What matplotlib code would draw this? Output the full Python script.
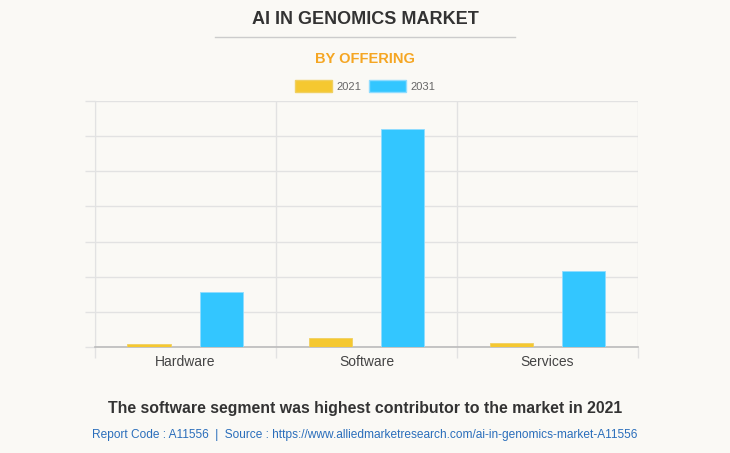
import numpy as np
import matplotlib.pyplot as plt
from matplotlib.patches import Patch

# Data (arbitrary units, one grid step = 1)
categories = ['Hardware', 'Software', 'Services']
values_2021 = [0.09, 0.26, 0.10]
values_2031 = [1.57, 6.2, 2.17]
series_labels = ['2021', '2031']

bg = '#faf9f5'
col_2021 = '#f5c830'
col_2031 = '#33c6ff'

plt.rcParams['font.family'] = ['Liberation Sans', 'DejaVu Sans']

fig = plt.figure(figsize=(7.30, 4.53), dpi=100, facecolor=bg)
ax = fig.add_axes([0.130, 0.234, 0.744, 0.543], facecolor=bg)

x = np.arange(len(categories))
w = 0.24
ax.bar(x - 0.2, values_2021, w, color=col_2021, edgecolor='#f0d060', linewidth=0.6, zorder=3)
ax.bar(x + 0.2, values_2031, w, color=col_2031, edgecolor='#8fdcff', linewidth=0.6, zorder=3)

ax.set_xlim(-0.5, len(categories) - 0.5)
ax.set_ylim(0, 7)

# horizontal grid with small stubs left of the axis
ax.set_yticks(np.arange(0, 8, 1))
ax.set_yticklabels([])
ax.tick_params(axis='y', length=7, color='#e2e2e2', width=1)
ax.grid(axis='y', color='#e2e2e2', linewidth=1, zorder=0)

# category labels and vertical separators
ax.set_xticks(x)
ax.set_xticklabels(categories, fontsize=10, color='#444444')
ax.tick_params(axis='x', which='major', length=0, pad=6)
ax.set_xticks(np.arange(-0.5, len(categories), 1), minor=True)
ax.tick_params(axis='x', which='minor', length=8, color='#e2e2e2', width=1)
ax.grid(axis='x', which='minor', color='#e2e2e2', linewidth=1, zorder=0)

for s in ['top', 'right']:
    ax.spines[s].set_visible(False)
ax.spines['left'].set_color('#e2e2e2')
ax.spines['bottom'].set_color('#bbbbbb')
ax.spines['bottom'].set_linewidth(1.2)

# titles
fig.text(0.5, 1 - 20 / 453, 'AI IN GENOMICS MARKET', ha='center', va='center',
         fontsize=13, fontweight='bold', color='#333333')
fig.add_artist(plt.Line2D([215 / 730, 515 / 730], [1 - 37 / 453] * 2, color='#cccccc', linewidth=1))
fig.text(0.5, 1 - 59 / 453, 'BY OFFERING', ha='center', va='center',
         fontsize=10.5, fontweight='bold', color='#f5a623')

# legend
handles = [Patch(facecolor=col_2021, edgecolor='#f0d060'), Patch(facecolor=col_2031, edgecolor='#8fdcff')]
fig.legend(handles, series_labels, loc='center', bbox_to_anchor=(0.5, 1 - 86 / 453), ncol=2,
           frameon=False, fontsize=8, labelcolor='#666666', handlelength=3.3, handleheight=1.4,
           handletextpad=0.4, columnspacing=0.7)

# footer
fig.text(0.5, 1 - 408 / 453, 'The software segment was highest contributor to the market in 2021',
         ha='center', va='center', fontsize=11.4, fontweight='bold', color='#333333')
fig.text(0.5, 1 - 435 / 453,
         'Report Code : A11556  |  Source : https://www.alliedmarketresearch.com/ai-in-genomics-market-A11556',
         ha='center', va='center', fontsize=8.6, color='#2a6ebb')

plt.savefig('out.png', dpi=100, facecolor=bg)
